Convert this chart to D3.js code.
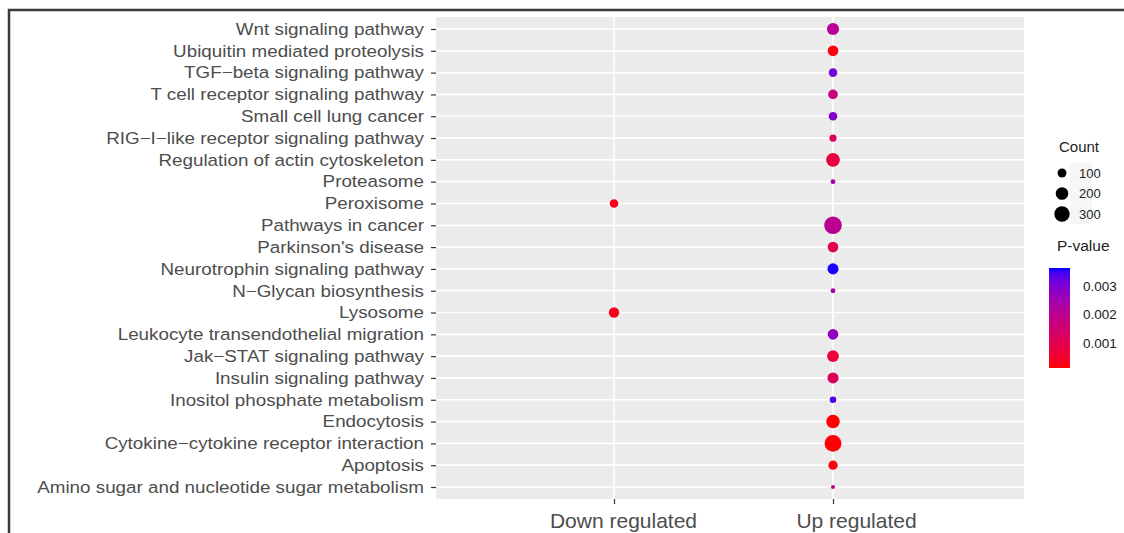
<!DOCTYPE html>
<html><head><meta charset="utf-8">
<script src="https://cdn.jsdelivr.net/npm/d3@7"></script>
<style>body{margin:0;background:#fff}svg{display:block}text{font-family:"Liberation Sans",Arial,sans-serif}</style>
</head><body><svg id="c" width="1124" height="533"></svg>
<script>
const categories = ["Wnt signaling pathway","Ubiquitin mediated proteolysis","TGF\u2212beta signaling pathway","T cell receptor signaling pathway","Small cell lung cancer","RIG\u2212I\u2212like receptor signaling pathway","Regulation of actin cytoskeleton","Proteasome","Peroxisome","Pathways in cancer","Parkinson's disease","Neurotrophin signaling pathway","N\u2212Glycan biosynthesis","Lysosome","Leukocyte transendothelial migration","Jak\u2212STAT signaling pathway","Insulin signaling pathway","Inositol phosphate metabolism","Endocytosis","Cytokine\u2212cytokine receptor interaction","Apoptosis","Amino sugar and nucleotide sugar metabolism"];
const xCategories = ["Down regulated","Up regulated"];
const pointPathway = ["Wnt signaling pathway","Ubiquitin mediated proteolysis","TGF\u2212beta signaling pathway","T cell receptor signaling pathway","Small cell lung cancer","RIG\u2212I\u2212like receptor signaling pathway","Regulation of actin cytoskeleton","Proteasome","Peroxisome","Pathways in cancer","Parkinson's disease","Neurotrophin signaling pathway","N\u2212Glycan biosynthesis","Lysosome","Leukocyte transendothelial migration","Jak\u2212STAT signaling pathway","Insulin signaling pathway","Inositol phosphate metabolism","Endocytosis","Cytokine\u2212cytokine receptor interaction","Apoptosis","Amino sugar and nucleotide sugar metabolism"];
const pointDirection = ["Up regulated","Up regulated","Up regulated","Up regulated","Up regulated","Up regulated","Up regulated","Up regulated","Down regulated","Up regulated","Up regulated","Up regulated","Up regulated","Down regulated","Up regulated","Up regulated","Up regulated","Up regulated","Up regulated","Up regulated","Up regulated","Up regulated"];
const pointCount = [185,143,93,117,93,66,239,30,93,391,143,155,30,135,143,173,155,54,229,359,110,20];
const pointPValue = [0.0021,0.0002,0.0031,0.0017,0.0029,0.0012,0.0008,0.0024,0.0003,0.0020,0.0009,0.0036,0.0024,0.0003,0.0027,0.0007,0.0012,0.0034,0.0001,0.00015,0.0002,0.0020];
const sizeLegendValues = [100,200,300];
const colorLegendTicks = [0.001,0.002,0.003];
const colorLegendLabels = ["0.001","0.002","0.003"];

const svg = d3.select("#c");
svg.append("rect").attr("width",1124).attr("height",533).attr("fill","#fff");

const P = {left:436, right:1024, top:17, bottom:499};
const y = d3.scalePoint().domain(categories).range([P.top, P.bottom]).padding(0.55);
const x = d3.scalePoint().domain(xCategories).range([614, 833]);
const pMin = 0.00012, pMax = 0.00363;
const color = d3.scaleLinear().domain([pMin, pMax]).range(["#ff0000","#0000ff"]).interpolate(d3.interpolateLab).clamp(true);
const size = d3.scaleSqrt().domain([0, 100]).range([0, 4.45]);

// panel
svg.append("rect").attr("x",P.left).attr("y",P.top).attr("width",P.right-P.left).attr("height",P.bottom-P.top).attr("fill","#ebebeb");
svg.append("g").selectAll("line").data(categories).join("line")
  .attr("x1",P.left).attr("x2",P.right).attr("y1",d=>y(d)).attr("y2",d=>y(d))
  .attr("stroke","#fff").attr("stroke-width",1.7);
svg.append("g").selectAll("line").data(xCategories).join("line")
  .attr("x1",d=>x(d)).attr("x2",d=>x(d)).attr("y1",P.top).attr("y2",P.bottom)
  .attr("stroke","#fff").attr("stroke-width",1.7);

// points
const pts = pointPathway.map((p,i)=>({p, d:pointDirection[i], c:pointCount[i], v:pointPValue[i]}));
svg.append("g").selectAll("circle").data(pts).join("circle")
  .attr("cx",d=>x(d.d)).attr("cy",d=>y(d.p)).attr("r",d=>size(d.c))
  .attr("fill",d=>color(d.v));

// y axis
const ya = svg.append("g").attr("transform",`translate(${P.left},0)`).call(d3.axisLeft(y).tickSize(5).tickPadding(7));
ya.select(".domain").remove();
ya.selectAll(".tick line").attr("stroke","#333").attr("stroke-width",1.2);
ya.selectAll(".tick text").attr("font-size",16.5).attr("fill","#4d4d4d").style("font-family",'"Liberation Sans",Arial,sans-serif');
let maxW = 0;
ya.selectAll(".tick text").each(function(){ maxW = Math.max(maxW, this.getComputedTextLength()); });
const k = 387 / maxW;
ya.selectAll(".tick text").attr("x", -12/k).attr("transform",`scale(${k},1)`);

// x axis
const xa = svg.append("g").attr("transform",`translate(0,${P.bottom})`).call(d3.axisBottom(x).tickSize(5));
xa.select(".domain").remove();
xa.selectAll(".tick line").attr("stroke","#333").attr("stroke-width",1.2);
xa.selectAll(".tick text").attr("font-size",21).attr("fill","#4d4d4d").attr("y",29).attr("dy",0)
  .attr("dx",(d,i)=> i===0 ? 9 : 23).style("font-family",'"Liberation Sans",Arial,sans-serif');

// frame
svg.append("path").attr("d","M9,533V10H1124").attr("fill","none").attr("stroke","#3a3a3a").attr("stroke-width",2.5);

// size legend
const lg = svg.append("g");
lg.append("text").attr("x",1059).attr("y",152).attr("font-size",15).attr("fill","#222").text("Count");
const sy = d3.scalePoint().domain(sizeLegendValues).range([173,214]);
lg.selectAll("rect.k").data(sizeLegendValues).join("rect").attr("class","k")
  .attr("x",1070).attr("y",d=>sy(d)-10).attr("width",22).attr("height",20).attr("fill","#f6f6f6");
lg.selectAll("circle").data(sizeLegendValues).join("circle")
  .attr("cx",1062).attr("cy",d=>sy(d)).attr("r",d=>size(d)).attr("fill","#000");
lg.selectAll("text.v").data(sizeLegendValues).join("text").attr("class","v")
  .attr("x",1079).attr("y",d=>sy(d)).attr("dy","0.35em").attr("font-size",13).attr("fill","#222").text(d=>d);

// colour legend
lg.append("text").attr("x",1057).attr("y",251).attr("font-size",15.5).attr("fill","#222").text("P-value");
const grad = svg.append("defs").append("linearGradient").attr("id","pg").attr("x1",0).attr("y1",1).attr("x2",0).attr("y2",0);
d3.range(0,1.0001,0.05).forEach(t=>{
  grad.append("stop").attr("offset",t).attr("stop-color",color(pMin + t*(pMax-pMin)));
});
lg.append("rect").attr("x",1049).attr("y",268).attr("width",21).attr("height",100).attr("fill","url(#pg)");
const cy = d3.scaleLinear().domain([pMin,pMax]).range([368,268]);
lg.selectAll("text.c").data(colorLegendTicks).join("text").attr("class","c")
  .attr("x",1083).attr("y",d=>cy(d)).attr("dy","0.35em").attr("font-size",13.5).attr("fill","#222")
  .text((d,i)=>colorLegendLabels[i]);
</script></body></html>
